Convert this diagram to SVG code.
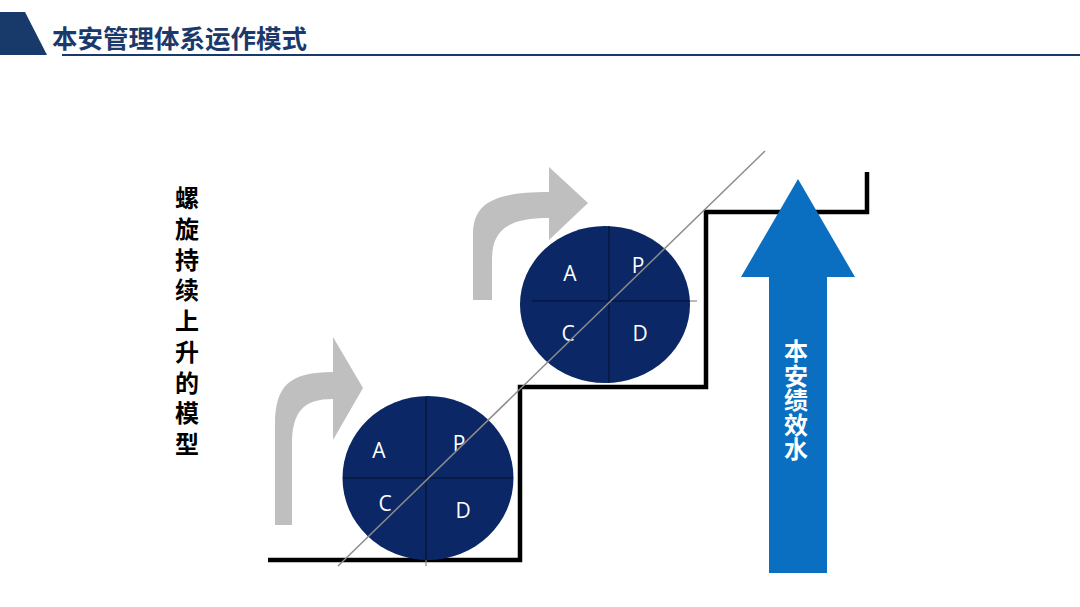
<svg xmlns="http://www.w3.org/2000/svg" width="1080" height="607" viewBox="0 0 1080 607">
<style>
.title{font-family:"Noto Sans CJK SC","Liberation Sans",sans-serif;font-weight:bold;font-size:25.5px;fill:#1b3a6b}
.vtext{font-family:"Noto Sans CJK SC","Liberation Sans",sans-serif;font-weight:bold;font-size:24px;fill:#000;writing-mode:vertical-rl;letter-spacing:6.75px}
.wtext{font-family:"Noto Sans CJK SC","Liberation Sans",sans-serif;font-weight:bold;font-size:24px;fill:#fff;writing-mode:vertical-rl;letter-spacing:0.5px}
.pdca{font-family:"Open Sans","Liberation Sans",sans-serif;font-size:21px;fill:#fff;text-anchor:middle}
.circ{fill:#0b2766}
.div{stroke:#06183f;stroke-width:1.5;fill:none}
.divout{stroke:#8a8a8a;stroke-width:1.2;fill:none}
.garrow{fill:#bfbfbf}
</style>
<rect width="1080" height="607" fill="#fff"/>
<g id="header">
<polygon points="0,12 25,12 47,55 0,55" fill="#173a6a"/>
<line x1="62" y1="55" x2="1080" y2="55" stroke="#173a6a" stroke-width="2"/>
<text class="title" x="52" y="48">本安管理体系运作模式</text>
</g>
<g id="stairs">
<path d="M268 560 H520 V387 H706 V212 H867 V172" fill="none" stroke="#000" stroke-width="4.5" stroke-linejoin="miter"/>
</g>
<g id="arrow-gray-1">
<path class="garrow" d="M275 525 V425 C275 385 290 372 333 372 V337 L363 388 L333 440 V399 C303 399 292 412 292 445 V525 Z"/>
</g>
<g id="arrow-gray-2">
<path class="garrow" d="M473 300 V235 C473 205 490 192 549 192 V167 L588 203 L549 240 V218 C505 218 492 232 492 260 V300 Z"/>
</g>
<g id="pdca-1">
<ellipse class="circ" cx="428" cy="478" rx="85.5" ry="82"/>
<line class="div" x1="426" y1="397" x2="426" y2="560"/>
<line class="divout" x1="426" y1="560" x2="426" y2="566"/>
<line class="div" x1="343" y1="478" x2="513" y2="478"/>
<text class="pdca" x="379" y="458">A</text>
<text class="pdca" x="459" y="451">P</text>
<text class="pdca" x="385" y="511">C</text>
<text class="pdca" x="463" y="518">D</text>
</g>
<g id="pdca-2">
<ellipse class="circ" cx="605" cy="304.5" rx="85" ry="78.5"/>
<line class="div" x1="609" y1="226" x2="609" y2="383"/>
<line class="div" x1="532" y1="301" x2="690" y2="301"/>
<line class="divout" x1="690" y1="301" x2="697" y2="301"/>
<text class="pdca" x="570" y="281">A</text>
<text class="pdca" x="638" y="273">P</text>
<text class="pdca" x="568" y="341">C</text>
<text class="pdca" x="640" y="341">D</text>
</g>
<g id="connectors">
<line x1="338" y1="566" x2="765" y2="151" stroke="#8c8c8c" stroke-width="1.5"/>
</g>
<g id="performance-arrow">
<polygon points="798,179 855,277 827,277 827,573 769,573 769,277 741,277" fill="#0a6fc0"/>
<text class="wtext" x="796" y="339">本安绩效水</text>
</g>
<g id="side-label">
<text class="vtext" x="187" y="186">螺旋持续上升的模型</text>
</g>
</svg>
